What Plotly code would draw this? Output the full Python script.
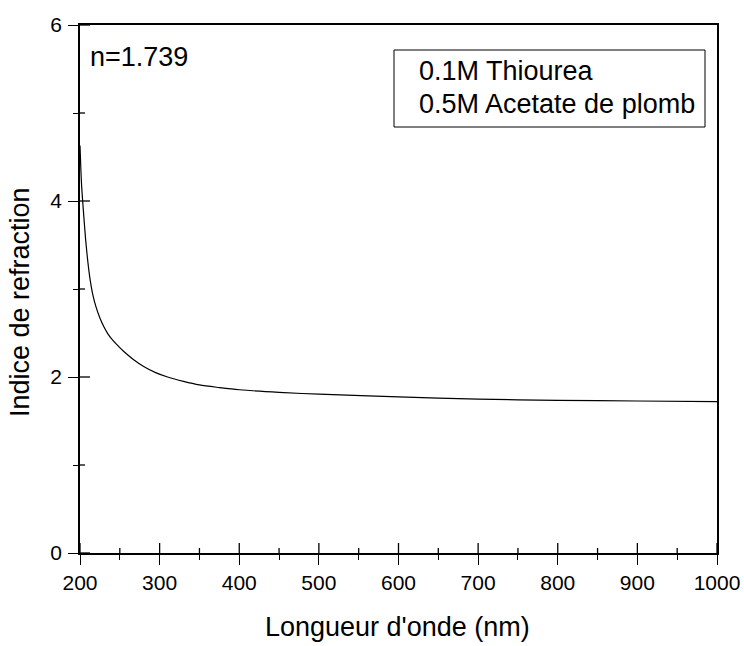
import plotly.graph_objects as go

# Refractive index vs wavelength (thin film: 0.1M thiourea + 0.5M lead acetate)
wavelength_nm = [200, 201, 202, 203.5, 205, 207, 209, 211, 213, 216, 220, 225, 230, 235, 240,
                 246, 255, 267, 280, 295, 310, 330, 350, 375, 400, 450, 500, 600, 700, 800,
                 900, 1000]
refractive_index = [4.63, 4.38, 4.18, 3.98, 3.80, 3.57, 3.38, 3.22, 3.09, 2.94, 2.80, 2.67,
                    2.57, 2.49, 2.43, 2.37, 2.29, 2.20, 2.12, 2.05, 2.00, 1.95, 1.91, 1.88,
                    1.855, 1.825, 1.805, 1.775, 1.748, 1.735, 1.727, 1.72]

x_ticks = [200, 300, 400, 500, 600, 700, 800, 900, 1000]
x_minor_ticks = [250, 350, 450, 550, 650, 750, 850, 950]
y_ticks = [0, 2, 4, 6]
y_minor_ticks = [1, 3, 5]

X_RANGE = [200, 1000]
Y_RANGE = [0, 6]

FONT = "Liberation Sans, Arial, sans-serif"
L, R, T, B = 80, 27, 25, 93
W, H = 744, 646
PW, PH = W - L - R, H - T - B
MAJOR_LEN, MINOR_LEN = 10, 5
TICK_W = 1.3

# one pixel expressed in axis units
X_PER_PX = (X_RANGE[1] - X_RANGE[0]) / PW
Y_PER_PX = (Y_RANGE[1] - Y_RANGE[0]) / PH


def px_x(px):
    return (px - L) / PW


def px_y(py):
    return (H - B - py) / PH


fig = go.Figure()
fig.add_trace(go.Scatter(
    x=wavelength_nm, y=refractive_index, mode="lines",
    line=dict(color="black", width=1.2, shape="spline", smoothing=0.8),
    hoverinfo="skip", showlegend=False,
))

# inward halves of the axis ticks (the axes themselves draw the outward halves)
tx, ty = [], []
for v, ln in [(t, MAJOR_LEN) for t in x_ticks] + [(t, MINOR_LEN) for t in x_minor_ticks]:
    tx += [v, v, None]
    ty += [Y_RANGE[0], Y_RANGE[0] + ln * Y_PER_PX, None]
for v, ln in [(t, MAJOR_LEN) for t in y_ticks] + [(t, MINOR_LEN) for t in y_minor_ticks]:
    tx += [X_RANGE[0], X_RANGE[0] + ln * X_PER_PX, None]
    ty += [v, v, None]
fig.add_trace(go.Scatter(
    x=tx, y=ty, mode="lines", line=dict(color="black", width=TICK_W),
    hoverinfo="skip", showlegend=False, cliponaxis=False,
))

tick_font = dict(family=FONT, size=21, color="black")

legend_box = dict(
    type="rect", xref="paper", yref="paper",
    x0=px_x(394), x1=px_x(705), y0=px_y(127), y1=px_y(50),
    line=dict(color="black", width=1), fillcolor="rgba(0,0,0,0)",
)

fig.update_layout(
    width=W, height=H,
    margin=dict(l=L, r=R, t=T, b=B),
    paper_bgcolor="white", plot_bgcolor="white",
    font=dict(family=FONT, color="black"),
    xaxis=dict(
        range=X_RANGE, tickvals=x_ticks, ticktext=[str(v) for v in x_ticks],
        ticks="outside", ticklen=MAJOR_LEN, tickcolor="black", tickwidth=TICK_W,
        showline=True, linecolor="black", linewidth=1.5, mirror=True,
        showgrid=False, zeroline=False, automargin=False, tickfont=tick_font,
        minor=dict(tickvals=x_minor_ticks, ticks="outside", ticklen=MINOR_LEN,
                   tickcolor="black", tickwidth=TICK_W, showgrid=False),
    ),
    yaxis=dict(
        range=Y_RANGE, tickvals=y_ticks, ticktext=[str(v) for v in y_ticks],
        ticks="outside", ticklen=MAJOR_LEN, tickcolor="black", tickwidth=TICK_W,
        showline=True, linecolor="black", linewidth=1.5, mirror=True,
        showgrid=False, zeroline=False, automargin=False, tickfont=tick_font,
        ticklabelstandoff=2,
        minor=dict(tickvals=y_minor_ticks, ticks="outside", ticklen=MINOR_LEN,
                   tickcolor="black", tickwidth=TICK_W, showgrid=False),
    ),
    shapes=[legend_box],
    annotations=[
        dict(text="n=1.739", xref="paper", yref="paper", x=px_x(88), y=px_y(57),
             xanchor="left", yanchor="middle", showarrow=False,
             font=dict(family=FONT, size=27, color="black")),
        dict(text="0.1M Thiourea", xref="paper", yref="paper", x=px_x(417), y=px_y(71),
             xanchor="left", yanchor="middle", showarrow=False,
             font=dict(family=FONT, size=27, color="black")),
        dict(text="0.5M Acetate de plomb", xref="paper", yref="paper", x=px_x(417), y=px_y(104.5),
             xanchor="left", yanchor="middle", showarrow=False,
             font=dict(family=FONT, size=27, color="black")),
        dict(text="Longueur d'onde (nm)", xref="paper", yref="paper", x=px_x(397), y=px_y(627),
             xanchor="center", yanchor="middle", showarrow=False,
             font=dict(family=FONT, size=27, color="black")),
        dict(text="Indice de refraction", xref="paper", yref="paper", x=px_x(20), y=px_y(302),
             xanchor="center", yanchor="middle", textangle=-90, showarrow=False,
             font=dict(family=FONT, size=27, color="black")),
    ],
)

fig.write_html("out.html")
